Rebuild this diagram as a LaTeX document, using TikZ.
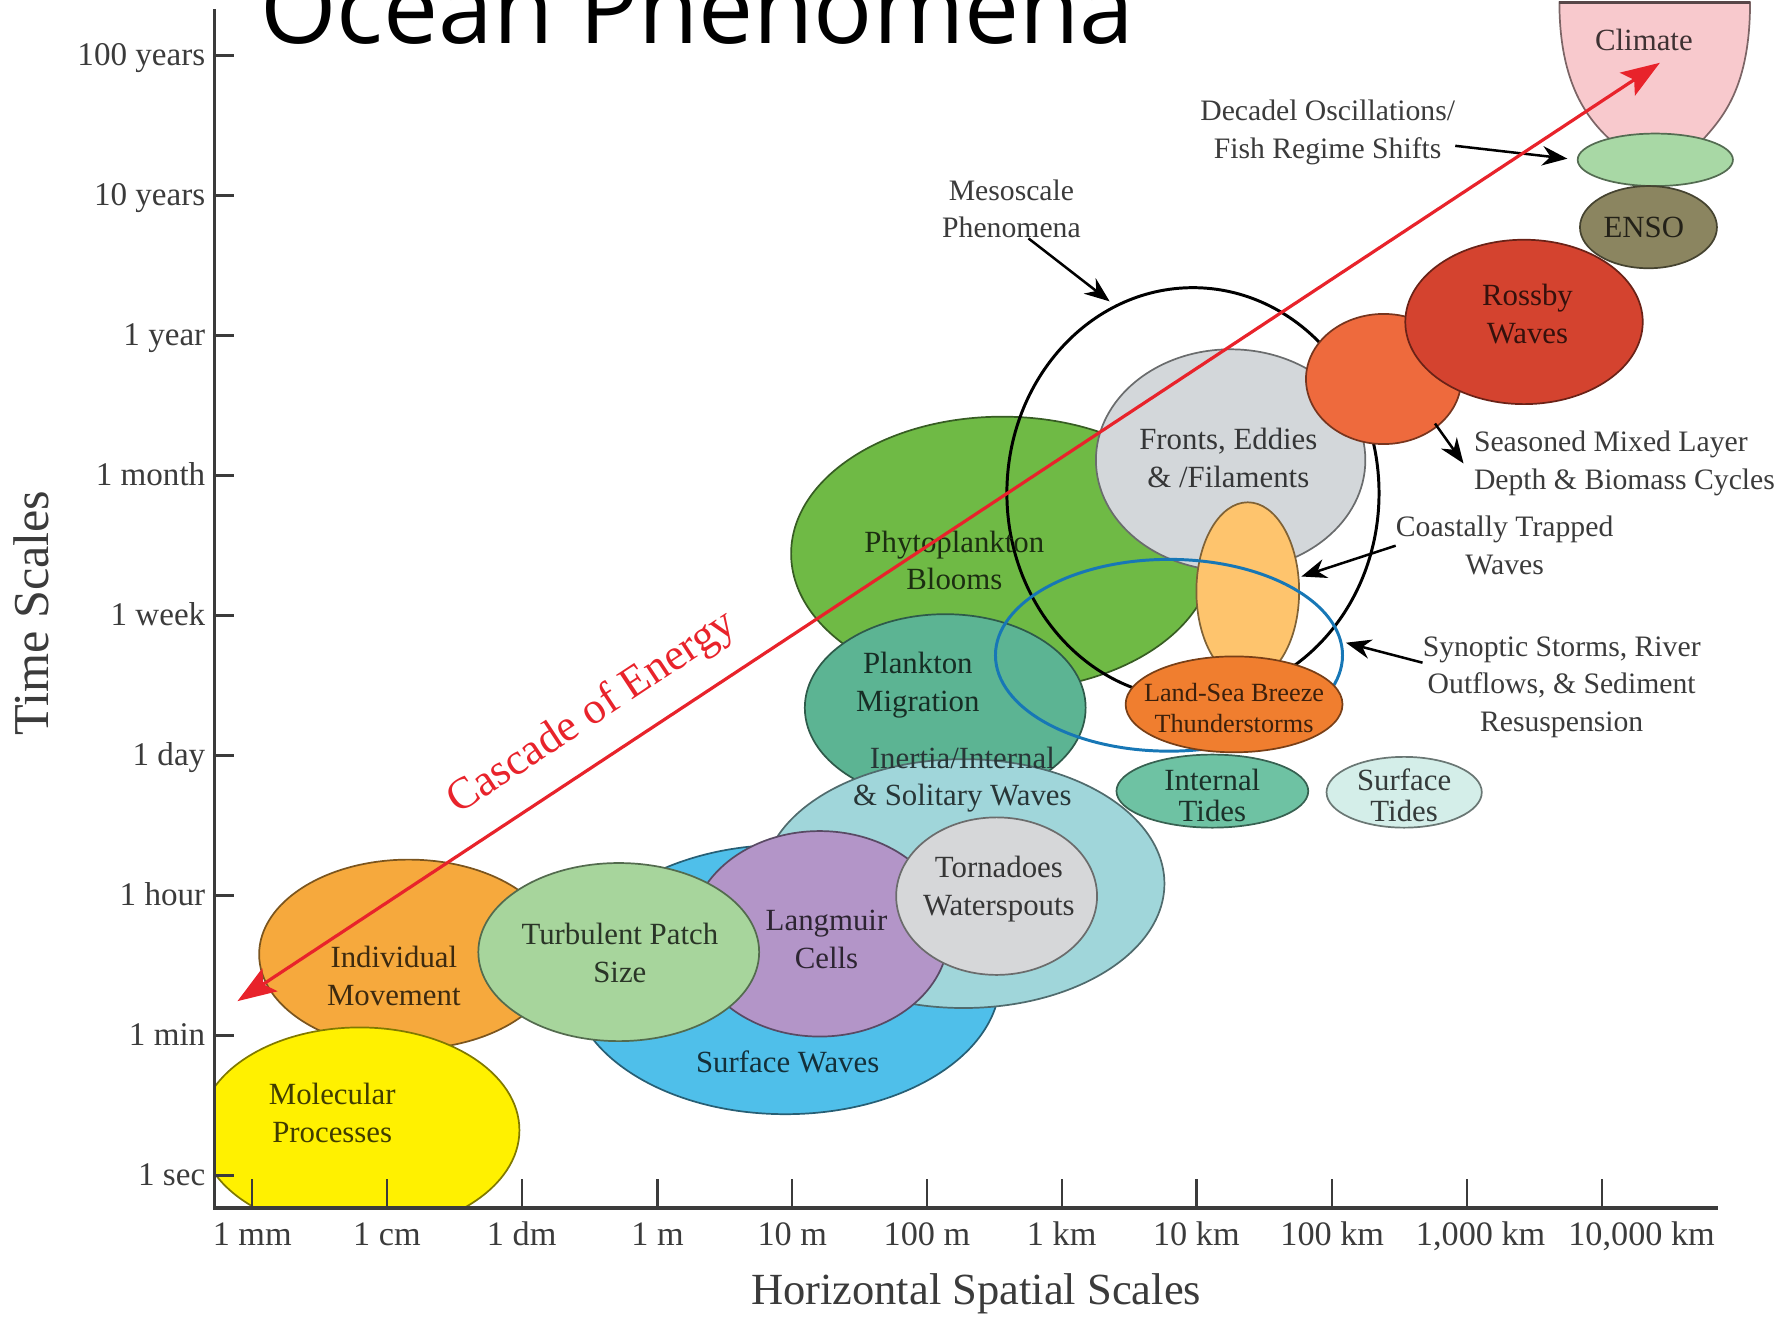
\documentclass[tikz,border=0pt]{standalone}
\usepackage{fontspec}
\setmainfont{Liberation Serif}
\newfontfamily\titlefont{Open Sans}
\usetikzlibrary{arrows.meta}
\definecolor{cYellow}{HTML}{FFF100}
\definecolor{cIndiv}{HTML}{F6A93D}
\definecolor{cTurb}{HTML}{A7D59C}
\definecolor{cSurfW}{HTML}{4FBFEA}
\definecolor{cLang}{HTML}{B395C8}
\definecolor{cInert}{HTML}{A0D6DA}
\definecolor{cTorn}{HTML}{D6D7D9}
\definecolor{cPlMig}{HTML}{5CB493}
\definecolor{cPhyto}{HTML}{6FBA45}
\definecolor{cFront}{HTML}{D3D7DA}
\definecolor{cCoast}{HTML}{FEC46D}
\definecolor{cBlueRing}{HTML}{1777B6}
\definecolor{cLandSea}{HTML}{F07E2F}
\definecolor{cIntTide}{HTML}{6EC2A3}
\definecolor{cSurfTide}{HTML}{D4EEE9}
\definecolor{cSeason}{HTML}{EE6A3D}
\definecolor{cRossby}{HTML}{D4432F}
\definecolor{cEnso}{HTML}{8B8560}
\definecolor{cDecad}{HTML}{A8D8A5}
\definecolor{cClimate}{HTML}{F8C9CD}
\definecolor{cRed}{HTML}{E8232B}
\definecolor{cNote}{HTML}{3B3B3B}
\begin{document}
\begin{tikzpicture}[x=1pt,y=-1pt,
	blob/.style={fill=#1,draw=#1!50!black,line width=1.5pt},
	inlbl/.style={align=center,inner sep=0pt,text=#1!25!black,font=\fontsize{27}{33}\selectfont},
	note/.style={align=center,inner sep=0pt,text=cNote,font=\fontsize{26}{33}\selectfont},
	pointer/.style={-{Stealth[length=22pt,width=17pt]},line width=2.2pt},
	ring/.style={line width=2.6pt},
	cascade/.style={{Stealth[length=34pt,width=24pt,inset=7pt]}-{Stealth[length=34pt,width=24pt,inset=7pt]},line width=2.8pt,draw=cRed},
	axisline/.style={line width=3pt,draw=cNote,line join=miter},
	ticky/.style={line width=2.6pt,draw=cNote},
	tickx/.style={line width=2pt,draw=cNote},
	ylbl/.style={anchor=mid east,inner sep=0pt,text=cNote,font=\fontsize{29}{30}\selectfont},
	xlbl/.style={anchor=base,inner sep=0pt,text=cNote,font=\fontsize{30}{31}\selectfont}]
	
	\useasboundingbox (0,0) rectangle (1568,1155);
	\clip (0,0) rectangle (1568,1155);
	
	%title
	\node[anchor=base west,inner sep=0pt,font=\titlefont\fontsize{86}{90}\selectfont] (title) at (228,38) {Ocean Phenomena};
	
	%small and middle scales
	\draw[blob=cPhyto] (878,485) ellipse [x radius=185pt,y radius=120pt];
	\draw[blob=cPlMig] (828,620) ellipse [x radius=123pt,y radius=82pt];
	\draw[blob=cSurfW] (688,858) ellipse [x radius=188pt,y radius=118pt];
	\draw[blob=cInert] (844,774) ellipse [x radius=176pt,y radius=109pt];
	\draw[blob=cLang] (718,818) ellipse [x radius=113pt,y radius=90pt];
	\draw[blob=cTorn] (873,785) ellipse [x radius=88pt,y radius=69pt];
	\draw[blob=cIndiv] (358,836) ellipse [x radius=131pt,y radius=83pt];
	\draw[blob=cTurb] (542,834) ellipse [x radius=123pt,y radius=78pt];
	\begin{scope}
		\clip (188,0) rectangle (1568,1058);
		\draw[blob=cYellow] (315,990) ellipse [x radius=140pt,y radius=90pt];
	\end{scope}
	
	%mesoscale
	\draw[blob=cFront] (1078,403) ellipse [x radius=118pt,y radius=97pt];
	\draw[blob=cCoast] (1093,518) ellipse [x radius=45pt,y radius=78pt];
	\draw[ring] (1045,432) ellipse [x radius=163pt,y radius=180pt];
	\draw[ring,draw=cBlueRing] (1024,574) ellipse [x radius=152pt,y radius=84pt];
	\draw[blob=cLandSea] (1081,617) ellipse [x radius=95pt,y radius=42pt];
	\draw[blob=cIntTide] (1062,693) ellipse [x radius=84pt,y radius=32pt];
	\draw[blob=cSurfTide] (1230,694) ellipse [x radius=68pt,y radius=31pt];
	
	%large scales
	\draw[blob=cSeason] (1212,332) ellipse [x radius=68pt,y radius=57pt];
	\draw[blob=cRossby] (1335,282) ellipse [x radius=104pt,y radius=72pt];
	\draw[blob=cClimate] (1366,2) .. controls (1366,75) and (1392,105) .. (1410,122) -- (1492,122) .. controls (1510,102) and (1533,75) .. (1533,2) -- cycle;
	\draw[line width=3pt,draw=cClimate!35!black] (1366,2) -- (1533,2);
	\draw[blob=cDecad] (1450,140) ellipse [x radius=68pt,y radius=23pt];
	\draw[blob=cEnso] (1444,199) ellipse [x radius=60pt,y radius=36pt];
	
	%labels in blobs
	\node[inlbl=cYellow] (molecTxt) at (291,975) {Molecular\\Processes};
	\node[inlbl=cIndiv] (indivTxt) at (345,855) {Individual\\Movement};
	\node[inlbl=cTurb] (turbTxt) at (543,835) {Turbulent Patch\\Size};
	\node[inlbl=cSurfW] (surfwTxt) at (690,930) {Surface Waves};
	\node[inlbl=cLang] (langTxt) at (724,823) {Langmuir\\Cells};
	\node[inlbl=cTorn] (tornTxt) at (875,779) {Tornadoes\\Waterspouts};
	\node[inlbl=cInert] (inertTxt) at (843,683) {Inertia/Internal\\\& Solitary Waves};
	\node[inlbl=cPlMig] (plmigTxt) at (804,600) {Plankton\\Migration};
	\node[inlbl=cPhyto] (phytoTxt) at (836,491) {Phytoplankton\\Blooms};
	\node[inlbl=cFront] (frontTxt) at (1076,401) {Fronts, Eddies\\\& /Filaments};
	\node[inlbl=cLandSea,font=\fontsize{23}{27}\selectfont] (landTxt) at (1081,620) {Land-Sea Breeze\\Thunderstorms};
	\node[inlbl=cIntTide,font=\fontsize{27}{27}\selectfont] (itideTxt) at (1062,697) {Internal\\Tides};
	\node[inlbl=cSurfTide,font=\fontsize{27}{27}\selectfont] (stideTxt) at (1230,697) {Surface\\Tides};
	\node[inlbl=cRossby] (rossTxt) at (1338,275) {Rossby\\Waves};
	\node[inlbl=cEnso] (ensoTxt) at (1440,199) {ENSO};
	\node[inlbl=cClimate] (climTxt) at (1440,35) {Climate};
	
	%notes
	\node[note] (mesoTxt) at (886,183) {Mesoscale\\Phenomena};
	\node[note] (decTxt) at (1163,116) {Decadel Oscillations/\\Fish Regime Shifts};
	\node[note,align=left,anchor=west] (seaTxt) at (1291,406) {Seasoned Mixed Layer\\Depth \& Biomass Cycles};
	\node[note] (coastTxt) at (1318,478) {Coastally Trapped\\Waves};
	\node[note] (synTxt) at (1368,602) {Synoptic Storms, River\\Outflows, \& Sediment\\Resuspension};
	
	%arrows
	\coordinate (mesoTip) at (972,264);
	\coordinate (decTip) at (1373,139);
	\coordinate (seaRoot) at (1257,371);
	\coordinate (coastTip) at (1140,505);
	\coordinate (synTip) at (1179,563);
	\draw[pointer] (mesoTxt.-60) -- (mesoTip);
	\draw[pointer] (decTxt.-6) -- (decTip);
	\draw[pointer] (seaRoot) -- ([xshift=-9pt]seaTxt.west);
	\draw[pointer] (coastTxt.west) -- (coastTip);
	\draw[pointer] (synTxt.170) -- (synTip);
	
	%axes
	\draw[axisline] (188,8) -- (188,1058) -- (1505,1058);
	\foreach \lab [count=\k from 0] in {100 years,10 years,1 year,1 month,1 week,1 day,1 hour,1 min,1 sec} {
		\draw[ticky] (188,49+122.6*\k) -- (205,49+122.6*\k);
		\node[ylbl] (yl\k) at (180,55+122.6*\k) {\lab};
	}
	\foreach \xt/\lab/\dx [count=\k] in {221/1 mm/0,339/1 cm/0,457/1 dm/0,576/1 m/0,694/10 m/0,812/100 m/0,930/1 km/0,1048/10 km/0,1167/100 km/0,1285/{1,000 km}/12,1403/{10,000 km}/35} {
		\draw[tickx] (\xt,1058) -- (\xt,1033);
		\node[xlbl] (xl\k) at (\xt+\dx,1091) {\lab};
	}
	\node[rotate=90,inner sep=0pt,text=cNote,font=\fontsize{44}{46}\selectfont] (timeTxt) at (27,537) {Time Scales};
	\node[inner sep=0pt,text=cNote,font=\fontsize{39}{40}\selectfont] (spaceTxt) at (855,1133) {Horizontal Spatial Scales};
	
	%cascade
	\coordinate (casLo) at (208,877);
	\coordinate (casHi) at (1454,55);
	\draw[cascade] (casLo) -- (casHi);
	\node[rotate=33.4,inner sep=0pt,text=cRed,font=\fontsize{39}{40}\selectfont] (casTxt) at (519,625) {Cascade of Energy};
\end{tikzpicture}
\end{document}
